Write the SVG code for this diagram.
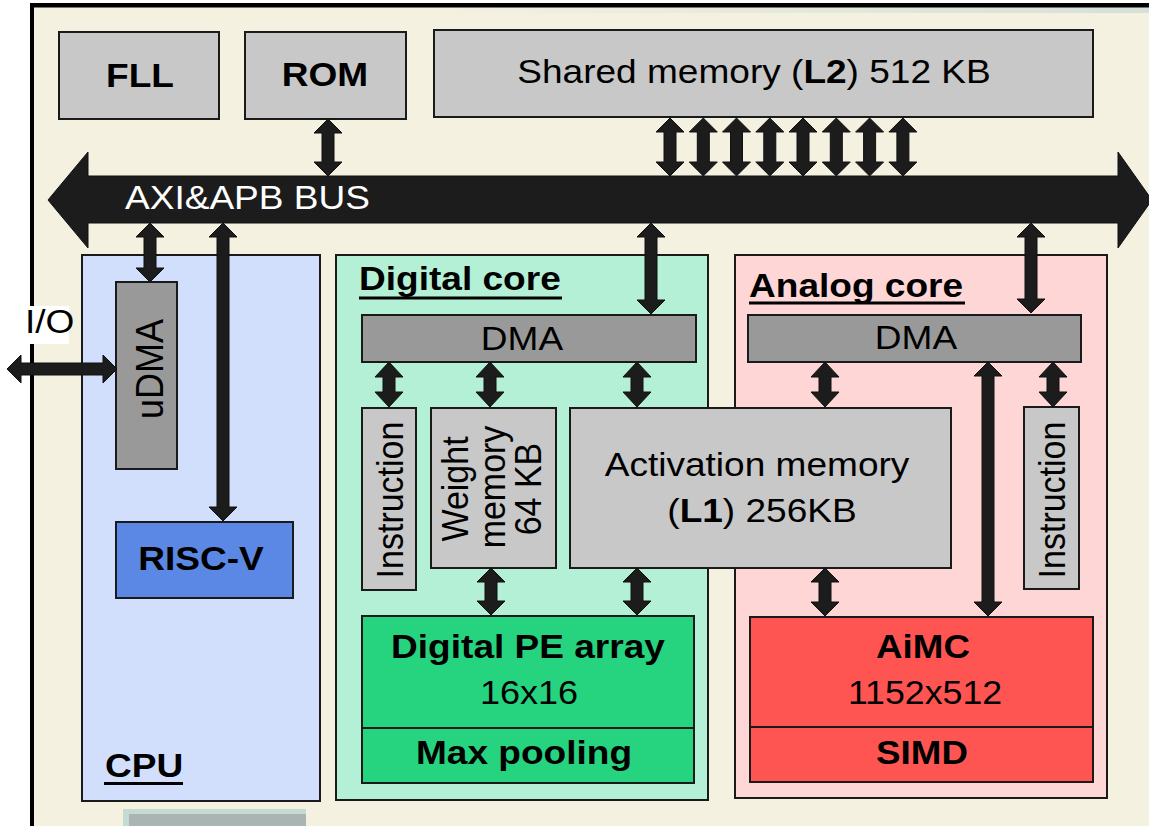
<svg xmlns="http://www.w3.org/2000/svg" width="1149" height="826" viewBox="0 0 1149 826">
<defs>
<linearGradient id="strip" x1="0" y1="0" x2="1" y2="0">
<stop offset="0" stop-color="#F5F1E1"/>
<stop offset="0.35" stop-color="#F5F1E1"/>
<stop offset="1" stop-color="#D6E0D8"/>
</linearGradient>
<style>
.box{stroke:#1a1a1a;stroke-width:2}
.gray{fill:#C8C8C8}
.dma{fill:#999999}
.t{font-family:"Liberation Sans",Arial,sans-serif;font-size:34px;fill:#000}
.b{font-weight:bold}
.m{text-anchor:middle}
.w{fill:#fff}
.arr{fill:#1C1C1C;stroke:#111;stroke-width:1;stroke-linejoin:miter}
</style>
</defs>
<rect x="0" y="0" width="1149" height="826" fill="#ffffff"/>
<rect x="32" y="5" width="1130" height="830" fill="#F5F1E1"/>
<rect x="34" y="7.5" width="1115" height="5.5" fill="url(#strip)"/>
<line x1="32" y1="3" x2="32" y2="826" stroke="#000" stroke-width="4"/>
<line x1="30" y1="5.3" x2="1149" y2="5.3" stroke="#000" stroke-width="4.5"/>
<g id="bottom-fragment">
<rect x="123" y="809" width="183" height="17" fill="#C5DAD5"/>
<rect x="129" y="814" width="177" height="12" fill="#A9B4B3"/>
</g>

<g id="fll"><rect class="box gray" x="59" y="32" width="160" height="87"/>
<text class="t b m" transform="translate(140,87) scale(1.09,1)">FLL</text></g>
<g id="rom"><rect class="box gray" x="245" y="32" width="161" height="87"/>
<text class="t b m" transform="translate(325,86) scale(1.09,1)">ROM</text></g>
<g id="l2"><rect class="box gray" x="434" y="30" width="659" height="87"/>
<text class="t m" transform="translate(754,83) scale(1.09,1)">Shared memory (<tspan class="b">L2</tspan>) 512 KB</text></g>

<g id="bus">
<path class="arr" d="M48,200 L88,152 L88,176 L1118,176 L1118,152 L1152,200 L1118,248 L1118,223 L88,223 L88,248 Z"/>
<text class="t w" transform="translate(125,209) scale(1.09,1)">AXI&amp;APB BUS</text>
</g>

<g id="cpu">
<rect class="box" x="82" y="255" width="238" height="546" fill="#D1DFFC"/>
<text class="t b" transform="translate(105,777) scale(1.09,1)">CPU</text>
<rect x="104" y="782" width="79" height="3" fill="#000"/>
</g>
<g id="udma"><rect class="box dma" x="116" y="282" width="61" height="187"/>
<text class="t m" transform="translate(163,369) scale(1.09,1) rotate(-90)" style="font-size:36px">uDMA</text></g>
<g id="riscv"><rect class="box" x="116" y="522" width="177" height="76" fill="#5B88E5"/>
<text class="t b m" transform="translate(201,570) scale(1.09,1)">RISC-V</text></g>
<g id="io">
<rect x="9" y="306" width="60" height="38" fill="#ffffff"/>
<text class="t" transform="translate(25,333) scale(1.09,1)">I/O</text>
</g>

<g id="digital-core">
<rect class="box" x="336" y="255" width="372" height="545" fill="#B3F0D5"/>
<text class="t b" transform="translate(359,290) scale(1.09,1)">Digital core</text>
<rect x="359" y="296.5" width="203" height="3" fill="#000"/>
</g>
<g id="digital-dma"><rect class="box dma" x="362" y="315" width="334" height="47"/>
<text class="t m" transform="translate(522,350) scale(1.09,1)">DMA</text></g>
<g id="digital-instruction"><rect class="box gray" x="362" y="408" width="54" height="182"/>
<text class="t m" transform="translate(403,500) scale(1.09,1) rotate(-90)">Instruction</text></g>
<g id="weight-memory"><rect class="box gray" x="431" y="408" width="125" height="160"/>
<text class="t m" transform="translate(468,489) scale(1.09,1) rotate(-90)">Weight</text>
<text class="t m" transform="translate(504.5,487) scale(1.09,1) rotate(-90)">memory</text>
<text class="t m" transform="translate(541,489) scale(1.09,1) rotate(-90)">64 KB</text></g>
<g id="pe-array"><rect class="box" x="362" y="616" width="332" height="112" fill="#26D47F"/>
<text class="t b m" transform="translate(528,658) scale(1.09,1)">Digital PE array</text>
<text class="t m" transform="translate(529,704) scale(1.06,1)">16x16</text></g>
<g id="max-pooling"><rect class="box" x="362" y="728" width="332" height="55" fill="#26D47F"/>
<text class="t b m" transform="translate(524,764) scale(1.09,1)">Max pooling</text></g>

<g id="analog-core">
<rect class="box" x="735" y="255" width="372" height="543" fill="#FFD6D6"/>
<text class="t b" transform="translate(749,297) scale(1.09,1)">Analog core</text>
<rect x="749" y="301.5" width="216" height="3" fill="#000"/>
</g>
<g id="analog-dma"><rect class="box dma" x="748" y="315" width="333" height="47"/>
<text class="t m" transform="translate(916,349) scale(1.09,1)">DMA</text></g>
<g id="analog-instruction"><rect class="box gray" x="1024" y="407" width="55" height="182"/>
<text class="t m" transform="translate(1065,500) scale(1.09,1) rotate(-90)">Instruction</text></g>
<g id="aimc"><rect class="box" x="750" y="617" width="343" height="110" fill="#FF5552"/>
<text class="t b m" transform="translate(923,658) scale(1.08,1)">AiMC</text>
<text class="t m" transform="translate(925,704) scale(1.05,1)">1152x512</text></g>
<g id="simd"><rect class="box" x="750" y="727" width="343" height="55" fill="#FF5552"/>
<text class="t b m" transform="translate(922,764) scale(1.08,1)">SIMD</text></g>

<g id="activation-memory"><rect class="box gray" x="570" y="408" width="381" height="160"/>
<text class="t m" transform="translate(757,476) scale(1.09,1)">Activation memory</text>
<text class="t m" transform="translate(762,522) scale(1.09,1)">(<tspan class="b">L1</tspan>) 256KB</text></g>

<g id="connectors">
<path class="arr" d="M328,119 L342,133 L334,133 L334,162 L342,162 L328,176 L314,162 L322,162 L322,133 L314,133 Z"/>
<path class="arr" d="M670,118 L684,132 L676,132 L676,162 L684,162 L670,176 L656,162 L664,162 L664,132 L656,132 Z"/>
<path class="arr" d="M703.3,118 L717.3,132 L709.3,132 L709.3,162 L717.3,162 L703.3,176 L689.3,162 L697.3,162 L697.3,132 L689.3,132 Z"/>
<path class="arr" d="M736.5,118 L750.5,132 L742.5,132 L742.5,162 L750.5,162 L736.5,176 L722.5,162 L730.5,162 L730.5,132 L722.5,132 Z"/>
<path class="arr" d="M769.8,118 L783.8,132 L775.8,132 L775.8,162 L783.8,162 L769.8,176 L755.8,162 L763.8,162 L763.8,132 L755.8,132 Z"/>
<path class="arr" d="M803,118 L817,132 L809,132 L809,162 L817,162 L803,176 L789,162 L797,162 L797,132 L789,132 Z"/>
<path class="arr" d="M836.3,118 L850.3,132 L842.3,132 L842.3,162 L850.3,162 L836.3,176 L822.3,162 L830.3,162 L830.3,132 L822.3,132 Z"/>
<path class="arr" d="M869.6,118 L883.6,132 L875.6,132 L875.6,162 L883.6,162 L869.6,176 L855.6,162 L863.6,162 L863.6,132 L855.6,132 Z"/>
<path class="arr" d="M902.9,118 L916.9,132 L908.9,132 L908.9,162 L916.9,162 L902.9,176 L888.9,162 L896.9,162 L896.9,132 L888.9,132 Z"/>
<path class="arr" d="M150,223 L164,237 L156,237 L156,268 L164,268 L150,282 L136,268 L144,268 L144,237 L136,237 Z"/>
<path class="arr" d="M223,223 L237,237 L229,237 L229,507 L237,507 L223,521 L209,507 L217,507 L217,237 L209,237 Z"/>
<path class="arr" d="M651,223 L665,237 L657,237 L657,300 L665,300 L651,314 L637,300 L645,300 L645,237 L637,237 Z"/>
<path class="arr" d="M1031,223 L1045,237 L1037,237 L1037,299 L1045,299 L1031,313 L1017,299 L1025,299 L1025,237 L1017,237 Z"/>
<path class="arr" d="M7,369 L21,355 L21,363 L103,363 L103,355 L117,369 L103,383 L103,375 L21,375 L21,383 Z"/>
<path class="arr" d="M389,362 L403,377 L395,377 L395,392 L403,392 L389,407 L375,392 L383,392 L383,377 L375,377 Z"/>
<path class="arr" d="M490,362 L504,377 L496,377 L496,392 L504,392 L490,407 L476,392 L484,392 L484,377 L476,377 Z"/>
<path class="arr" d="M637,362 L651,377 L643,377 L643,392 L651,392 L637,407 L623,392 L631,392 L631,377 L623,377 Z"/>
<path class="arr" d="M491,568 L505,582 L497,582 L497,601 L505,601 L491,615 L477,601 L485,601 L485,582 L477,582 Z"/>
<path class="arr" d="M637,568 L651,582 L643,582 L643,601 L651,601 L637,615 L623,601 L631,601 L631,582 L623,582 Z"/>
<path class="arr" d="M825,362 L839,377 L831,377 L831,392 L839,392 L825,407 L811,392 L819,392 L819,377 L811,377 Z"/>
<path class="arr" d="M825,568 L839,582 L831,582 L831,602 L839,602 L825,616 L811,602 L819,602 L819,582 L811,582 Z"/>
<path class="arr" d="M988,362 L1002,376 L994,376 L994,602 L1002,602 L988,616 L974,602 L982,602 L982,376 L974,376 Z"/>
<path class="arr" d="M1053,362 L1067,377 L1059,377 L1059,392 L1067,392 L1053,407 L1039,392 L1047,392 L1047,377 L1039,377 Z"/>
</g>
</svg>
